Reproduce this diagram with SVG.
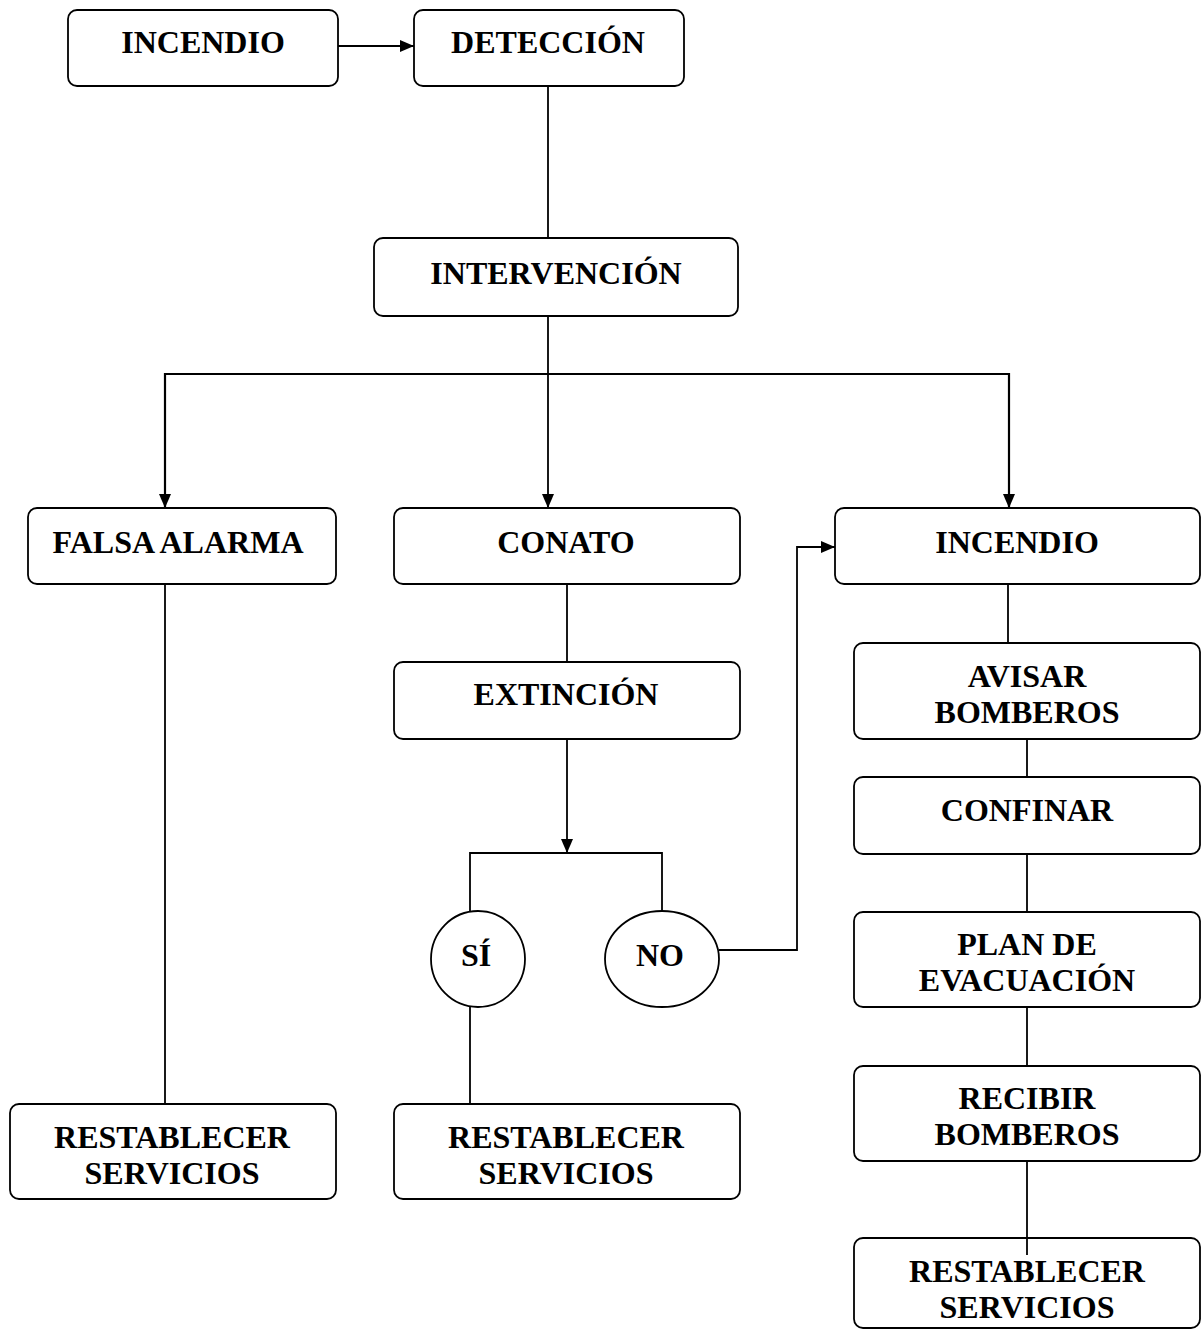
<svg xmlns="http://www.w3.org/2000/svg" width="1202" height="1330" viewBox="0 0 1202 1330">
<style>
.box{fill:#fff;stroke:#000;stroke-width:1.8}
.ell{fill:#fff;stroke:#000;stroke-width:1.8}
.ln{fill:none;stroke:#000;stroke-width:1.8}
text{font-family:"Liberation Serif","Times New Roman",serif;font-weight:bold;font-size:32px;text-anchor:middle;fill:#000}
</style>
<defs>
<marker id="ah" markerWidth="14" markerHeight="12" refX="14" refY="6" orient="auto" markerUnits="userSpaceOnUse">
<path d="M0,0 L14,6 L0,12 Z" fill="#000"/>
</marker>
</defs>
<rect width="1202" height="1330" fill="#fff"/>
<g id="n-incendio1"><rect class="box" x="68" y="10" width="270" height="76" rx="9"/><text x="203" y="53">INCENDIO</text></g>
<g id="n-deteccion"><rect class="box" x="414" y="10" width="270" height="76" rx="9"/><text x="548" y="53">DETECCIÓN</text></g>
<g id="n-intervencion"><rect class="box" x="374" y="238" width="364" height="78" rx="9"/><text x="556" y="284">INTERVENCIÓN</text></g>
<g id="n-falsa"><rect class="box" x="28" y="508" width="308" height="76" rx="9"/><text x="178" y="553">FALSA ALARMA</text></g>
<g id="n-conato"><rect class="box" x="394" y="508" width="346" height="76" rx="9"/><text x="566" y="553">CONATO</text></g>
<g id="n-incendio2"><rect class="box" x="835" y="508" width="365" height="76" rx="9"/><text x="1017" y="553">INCENDIO</text></g>
<g id="n-extincion"><rect class="box" x="394" y="662" width="346" height="77" rx="9"/><text x="566" y="705">EXTINCIÓN</text></g>
<g id="n-si"><ellipse class="ell" cx="478" cy="959" rx="47" ry="48"/><text x="476" y="966">SÍ</text></g>
<g id="n-no"><ellipse class="ell" cx="662" cy="959" rx="57" ry="48"/><text x="660" y="966">NO</text></g>
<g id="n-avisar"><rect class="box" x="854" y="643" width="346" height="96" rx="9"/><text x="1027" y="687">AVISAR</text><text x="1027" y="723">BOMBEROS</text></g>
<g id="n-confinar"><rect class="box" x="854" y="777" width="346" height="77" rx="9"/><text x="1027" y="821">CONFINAR</text></g>
<g id="n-plan"><rect class="box" x="854" y="912" width="346" height="95" rx="9"/><text x="1027" y="955">PLAN DE</text><text x="1027" y="991">EVACUACIÓN</text></g>
<g id="n-recibir"><rect class="box" x="854" y="1066" width="346" height="95" rx="9"/><text x="1027" y="1109">RECIBIR</text><text x="1027" y="1145">BOMBEROS</text></g>
<g id="n-rest1"><rect class="box" x="10" y="1104" width="326" height="95" rx="9"/><text x="172" y="1148">RESTABLECER</text><text x="172" y="1184">SERVICIOS</text></g>
<g id="n-rest2"><rect class="box" x="394" y="1104" width="346" height="95" rx="9"/><text x="566" y="1148">RESTABLECER</text><text x="566" y="1184">SERVICIOS</text></g>
<g id="n-rest3"><rect class="box" x="854" y="1238" width="346" height="90" rx="9"/><text x="1027" y="1282">RESTABLECER</text><text x="1027" y="1318">SERVICIOS</text></g>
<g id="connectors">
<line class="ln" x1="338" y1="46" x2="414" y2="46" marker-end="url(#ah)"/>
<line class="ln" x1="548" y1="86" x2="548" y2="238"/>
<line class="ln" x1="548" y1="316" x2="548" y2="508" marker-end="url(#ah)"/>
<polyline class="ln" points="165,508 165,374 1009,374 1009,508" style="stroke-width:2.2"/>
<line class="ln" x1="165" y1="495" x2="165" y2="508" marker-end="url(#ah)"/>
<line class="ln" x1="1009" y1="495" x2="1009" y2="508" marker-end="url(#ah)"/>
<line class="ln" x1="165" y1="584" x2="165" y2="1104"/>
<line class="ln" x1="567" y1="584" x2="567" y2="662"/>
<line class="ln" x1="567" y1="739" x2="567" y2="853" marker-end="url(#ah)"/>
<polyline class="ln" points="470,911 470,853 662,853 662,911"/>
<line class="ln" x1="470" y1="1007" x2="470" y2="1104"/>
<polyline class="ln" points="719,950 797,950 797,547 835,547" marker-end="url(#ah)"/>
<line class="ln" x1="1008" y1="584" x2="1008" y2="643"/>
<line class="ln" x1="1027" y1="739" x2="1027" y2="777"/>
<line class="ln" x1="1027" y1="854" x2="1027" y2="912"/>
<line class="ln" x1="1027" y1="1007" x2="1027" y2="1066"/>
<line class="ln" x1="1027" y1="1161" x2="1027" y2="1255"/>
</g>
</svg>
